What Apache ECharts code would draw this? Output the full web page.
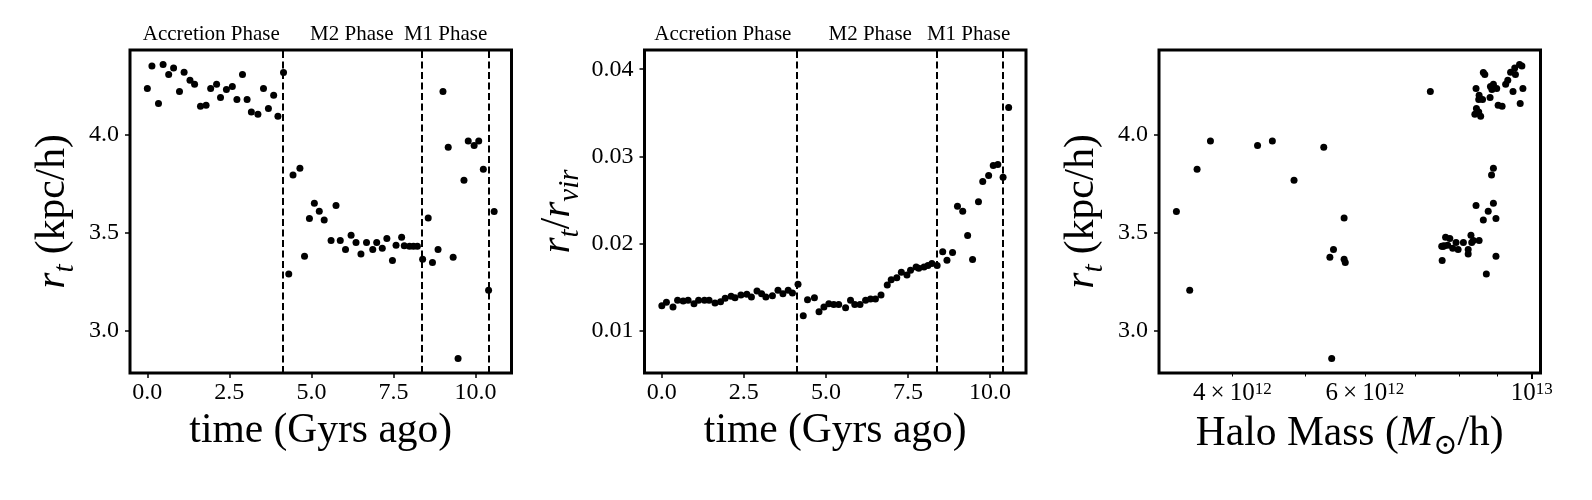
<!DOCTYPE html>
<html>
<head>
<meta charset="utf-8">
<script src="https://cdn.jsdelivr.net/npm/echarts@6/dist/echarts.min.js"></script>
<style>
  html, body { margin: 0; padding: 0; background: #fff; }
  #chart { width: 1592px; height: 500px; }
</style>
</head>
<body>
<div id="chart"></div>
<script>
// snapshot times (Gyr ago)
const timeGyr = [
  0.00, 0.14, 0.34, 0.48, 0.65, 0.80, 0.98, 1.12, 1.30, 1.44,
  1.62, 1.79, 1.93, 2.11, 2.23, 2.41, 2.59, 2.73, 2.90, 3.04,
  3.17, 3.37, 3.54, 3.69, 3.85, 3.98, 4.15, 4.31, 4.44, 4.65,
  4.79, 4.94, 5.09, 5.24, 5.39, 5.60, 5.75, 5.88, 6.04, 6.21,
  6.36, 6.51, 6.68, 6.87, 6.99, 7.16, 7.30, 7.47, 7.58, 7.75,
  7.83, 7.99, 8.11, 8.23, 8.39, 8.56, 8.69, 8.86, 9.01, 9.17,
  9.32, 9.47, 9.65, 9.78, 9.96, 10.10, 10.24, 10.40, 10.57
];
// tidal radius r_t (kpc/h)
const tidalRadius = [
  4.234, 4.348, 4.158, 4.356, 4.305, 4.338, 4.219, 4.317, 4.276, 4.255,
  4.143, 4.148, 4.234, 4.255, 4.188, 4.229, 4.244, 4.178, 4.305, 4.178,
  4.114, 4.103, 4.234, 4.132, 4.199, 4.092, 4.316, 3.289, 3.793, 3.828,
  3.380, 3.572, 3.650, 3.609, 3.564, 3.460, 3.638, 3.460, 3.414, 3.487,
  3.450, 3.391, 3.450, 3.414, 3.450, 3.420, 3.470, 3.358, 3.435, 3.476,
  3.433, 3.430, 3.430, 3.430, 3.364, 3.574, 3.348, 3.414, 4.219, 3.935,
  3.374, 2.859, 3.767, 3.966, 3.944, 3.966, 3.823, 3.206, 3.608
];
// r_t / r_vir
const radiusRatio = [
  0.0129, 0.0133, 0.01275, 0.01352, 0.01344, 0.01352, 0.01314, 0.01352, 0.01352, 0.01352,
  0.01321, 0.01337, 0.01375, 0.01398, 0.01383, 0.01413, 0.01421, 0.0139, 0.01459, 0.01429,
  0.0139, 0.01406, 0.01467, 0.01429, 0.01467, 0.01436, 0.01536, 0.01177, 0.0136, 0.01383,
  0.01222, 0.01275, 0.01314, 0.01306, 0.01306, 0.01268, 0.01352, 0.01306, 0.01306, 0.01352,
  0.01367, 0.01367, 0.01413, 0.01528, 0.01589, 0.01612, 0.01673, 0.01642, 0.01696, 0.01734,
  0.01719, 0.01734, 0.0175, 0.01773, 0.0175, 0.0191, 0.01811, 0.01899, 0.0243, 0.02373,
  0.02094, 0.01819, 0.02482, 0.02713, 0.02782, 0.02897, 0.02908, 0.02763, 0.03562
];
// halo mass in units of 1e12 Msun/h
const haloMass = [
  9.73, 9.70, 9.65, 9.63, 9.51, 9.49, 9.44, 9.37, 9.29, 9.23,
  9.13, 9.02, 8.98, 8.89, 8.80, 8.85, 8.81, 8.60, 8.66, 8.50,
  8.50, 8.40, 8.43, 8.44, 8.51, 8.55, 8.62, 8.70, 8.84, 8.89,
  8.96, 8.96, 8.89, 8.75, 8.62, 8.51, 8.43, 8.36, 8.23, 8.30,
  8.32, 8.23, 8.11, 7.98, 7.93, 7.85, 7.78, 7.60, 7.73, 7.68,
  7.65, 7.59, 7.61, 7.63, 5.63, 5.63, 5.65, 5.45, 7.33, 5.29,
  5.39, 5.42, 4.83, 4.52, 4.32, 3.74, 3.59, 3.51, 3.37
];
const MASS_UNIT = 1e12;

const phaseBounds = [4.12, 8.37, 10.40];
const phaseNames = ['Accretion Phase', 'M2 Phase', 'M1 Phase'];
const phaseLabelTimeA = [1.95, 6.23, 9.09];
const phaseLabelTimeB = [1.86, 6.35, 9.35];

const timeTicks = [0, 2.5, 5, 7.5, 10];
const rtTicks = [3.0, 3.5, 4.0];
const ratioTicks = [0.01, 0.02, 0.03, 0.04];
const massLabelTicks = [4e12, 6e12, 1e13];
const massMajorTicks = [1e13];
const massMinorTicks = [4e12, 5e12, 6e12, 7e12, 8e12, 9e12];

const FONT = '"Liberation Serif", "DejaVu Serif", serif';
const RT_RANGE = [2.785, 4.43];
const RATIO_RANGE = [0.0052, 0.0422];
const TIME_RANGE = [-0.5285, 11.0985];
const LOGM_RANGE = [12.5045, 13.0115];

const chart = echarts.init(document.getElementById('chart'), null, { renderer: 'canvas' });

const tickStyle = { color: '#000', width: 1.5 };
const labelBase = { color: '#000', fontFamily: FONT, fontSize: 24 };
const TITLE_SIZE = 41.5;
const nameRich = {
  n: { fontFamily: FONT, fontSize: TITLE_SIZE, color: '#000' },
  i: { fontFamily: FONT, fontSize: TITLE_SIZE, fontStyle: 'italic', color: '#000' },
  sub: { fontFamily: FONT, fontSize: 29, fontStyle: 'italic', color: '#000', verticalAlign: 'bottom', padding: [24, 0, 0, 0] },
  subu: { fontFamily: FONT, fontSize: 29, color: '#000', verticalAlign: 'bottom', padding: [24, 0, 0, 0] }
};

const timeAxis = function (gridIndex) {
  return {
    type: 'value', gridIndex: gridIndex, min: TIME_RANGE[0], max: TIME_RANGE[1],
    axisLine: { show: false, onZero: false },
    axisTick: { show: true, length: 5, lineStyle: tickStyle, customValues: timeTicks },
    axisLabel: Object.assign({ customValues: timeTicks, margin: 8, formatter: function (v) { return v.toFixed(1); } }, labelBase),
    splitLine: { show: false },
    name: 'time (Gyrs ago)', nameLocation: 'middle', nameGap: 36,
    nameTextStyle: { fontFamily: FONT, fontSize: TITLE_SIZE, color: '#000' }
  };
};

const valueYAxis = function (gridIndex, range, ticks, digits, name, gap) {
  return {
    type: 'value', gridIndex: gridIndex, min: range[0], max: range[1],
    axisLine: { show: false, onZero: false },
    axisTick: { show: true, length: 5, lineStyle: tickStyle, customValues: ticks },
    axisLabel: Object.assign({ customValues: ticks, margin: 11, formatter: function (v) { return v.toFixed(digits); } }, labelBase),
    splitLine: { show: false },
    name: name, nameLocation: 'middle', nameGap: gap,
    nameTextStyle: { fontFamily: FONT, fontSize: TITLE_SIZE, color: '#000', rich: nameRich }
  };
};

const massLabel = function (v) {
  const m = Math.pow(10, v);
  if (Math.abs(m - 1e13) / 1e13 < 1e-6) {
    return '{b|10}{s|13}';
  }
  return '{b|' + Math.round(m / 1e12) + '\u2009×\u200910}{s|12}';
};

const phaseMarks = {
  silent: true,
  symbol: ['none', 'none'],
  label: { show: false },
  lineStyle: { color: '#000', width: 2, type: [7, 3.5], opacity: 1 },
  data: phaseBounds.map(function (x) { return { xAxis: x }; })
};

const phaseLabelSeries = function (index, times, yTop) {
  return {
    type: 'custom', xAxisIndex: index, yAxisIndex: index, clip: false, silent: true,
    data: times.map(function (t) { return [t, yTop]; }),
    renderItem: function (params, api) {
      const p = api.coord([api.value(0), api.value(1)]);
      return {
        type: 'text', x: p[0], y: p[1] - 16,
        style: { text: phaseNames[params.dataIndex], fontFamily: FONT, fontSize: 21, fill: '#000', align: 'center', verticalAlign: 'middle' }
      };
    }
  };
};

const grids = [130, 644.5, 1159].map(function (left) {
  return { left: left, top: 50, width: 381.5, height: 323, show: true, borderColor: '#000', borderWidth: 3, backgroundColor: 'transparent' };
});

const dots = { symbol: 'circle', symbolSize: 7, itemStyle: { color: '#000', opacity: 1 } };

chart.setOption({
  animation: false,
  backgroundColor: '#fff',
  textStyle: { fontFamily: FONT },
  grid: grids,
  xAxis: [
    timeAxis(0),
    timeAxis(1),
    {
      type: 'value', gridIndex: 2, position: 'bottom', min: LOGM_RANGE[0], max: LOGM_RANGE[1],
      axisLine: { show: false, onZero: false },
      axisTick: { show: true, length: 6, lineStyle: { color: '#000', width: 2 }, customValues: massMajorTicks.map(Math.log10) },
      axisLabel: {
        customValues: massLabelTicks.map(Math.log10), margin: 8, formatter: massLabel,
        rich: {
          b: { fontFamily: FONT, fontSize: 25, color: '#000' },
          s: { fontFamily: FONT, fontSize: 17, color: '#000', verticalAlign: 'top' }
        }
      },
      splitLine: { show: false },
      name: '{n|Halo Mass (}{i|M}{subu|⊙}{n|/h)}', nameLocation: 'middle', nameGap: 35,
      nameTextStyle: { fontFamily: FONT, fontSize: TITLE_SIZE, color: '#000', rich: nameRich }
    },
    {
      type: 'value', gridIndex: 2, position: 'bottom', min: LOGM_RANGE[0], max: LOGM_RANGE[1],
      axisLine: { show: false, onZero: false },
      axisTick: { show: true, length: 3.5, lineStyle: { color: '#000', width: 1 }, customValues: massMinorTicks.map(Math.log10) },
      axisLabel: { show: false },
      splitLine: { show: false }
    }
  ],
  yAxis: [
    valueYAxis(0, RT_RANGE, rtTicks, 1, '{i|r}{sub|t}{n| (kpc/h)}', 50),
    valueYAxis(1, RATIO_RANGE, ratioTicks, 2, '{i|r}{sub|t}{n|/}{i|r}{sub|vir}', 60),
    valueYAxis(2, RT_RANGE, rtTicks, 1, '{i|r}{sub|t}{n| (kpc/h)}', 50)
  ],
  series: [
    Object.assign({
      type: 'scatter', xAxisIndex: 0, yAxisIndex: 0,
      data: timeGyr.map(function (t, i) { return [t, tidalRadius[i]]; }),
      markLine: phaseMarks
    }, dots),
    Object.assign({
      type: 'scatter', xAxisIndex: 1, yAxisIndex: 1,
      data: timeGyr.map(function (t, i) { return [t, radiusRatio[i]]; }),
      markLine: phaseMarks
    }, dots),
    Object.assign({
      type: 'scatter', xAxisIndex: 2, yAxisIndex: 2,
      data: haloMass.map(function (m, i) { return [Math.log10(m * MASS_UNIT), tidalRadius[i]]; })
    }, dots),
    phaseLabelSeries(0, phaseLabelTimeA, RT_RANGE[1]),
    phaseLabelSeries(1, phaseLabelTimeB, RATIO_RANGE[1])
  ]
});
</script>
</body>
</html>
